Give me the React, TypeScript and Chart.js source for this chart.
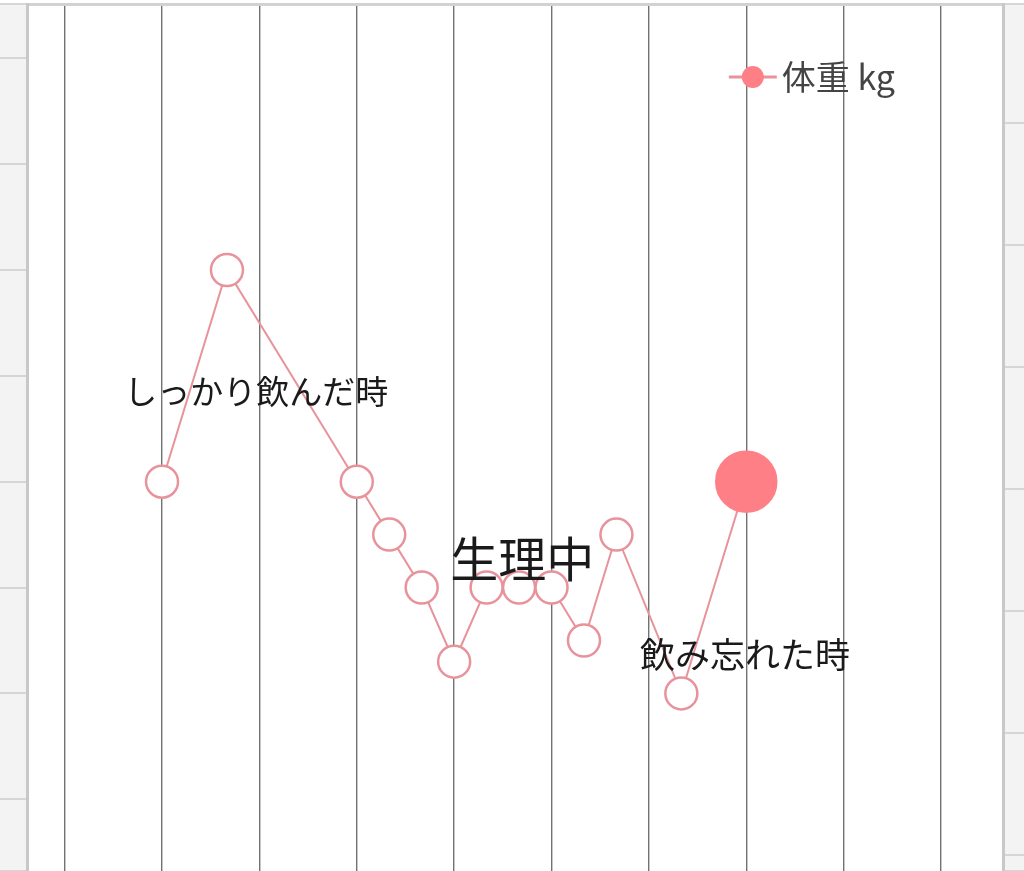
import React, { useEffect, useRef } from "react";
import { Chart, registerables } from "chart.js";

Chart.register(...registerables);

// weight log (days counted from the first entry)
const seriesLabel = "体重 kg";
const dayOffsets = [0, 2, 6, 7, 8, 9, 10, 11, 12, 13, 14, 16, 18];
const weights = [50.0, 50.4, 50.0, 49.9, 49.8, 49.66, 49.8, 49.8, 49.8, 49.7, 49.9, 49.6, 50.0];

// free text notes, anchored in data coordinates
const noteTexts = ["しっかり飲んだ時", "生理中", "飲み忘れた時"];
const noteDays = [2.9, 11.1, 17.96];
const noteWeights = [50.17, 49.855, 49.673];

// visible window of the scrolled chart
const dayMin = -4.16;
const dayMax = 25.91;
const dayStep = 3;
const weightMin = 49.2644;
const weightMax = 50.9026;
const weightStep = 0.2;
const rightMin = 19.869;
const rightMax = 26.975;
const rightStep = 1;

const FONT = '"Noto Sans CJK JP", "Noto Sans", sans-serif';
const PINK = "#e8939b";
const PINK_FILL = "#ff7f87";
const NOTE_FONT_SIZE = [33, 48, 35];

const framePlugin = {
  id: "frame",
  beforeDraw(chart: any) {
    const { ctx, chartArea: a, width, height } = chart;
    ctx.save();
    ctx.fillStyle = "#ffffff";
    ctx.fillRect(0, 0, width, height);
    ctx.fillStyle = "#f3f3f3";
    ctx.fillRect(0, a.top, a.left, height - a.top);
    ctx.fillRect(a.right, a.top, width - a.right, height - a.top);
    ctx.restore();
  },
  afterDatasetsDraw(chart: any) {
    const { ctx, chartArea: a } = chart;
    const xs = chart.scales.x;
    const ys = chart.scales.y;
    ctx.save();
    // notes
    ctx.fillStyle = "#1a1a1a";
    ctx.textAlign = "center";
    ctx.textBaseline = "middle";
    noteTexts.forEach((t, i) => {
      ctx.font = `${NOTE_FONT_SIZE[i]}px ${FONT}`;
      ctx.fillText(t, xs.getPixelForValue(noteDays[i]), ys.getPixelForValue(noteWeights[i]));
    });
    // legend (drawn over the plot area)
    ctx.font = `34px ${FONT}`;
    const label = chart.data.datasets[0].label;
    const tw = ctx.measureText(label).width;
    const textRight = a.right - 103;
    const textLeft = textRight - tw - 5;
    const cy = a.top + 73;
    ctx.fillStyle = "#444444";
    ctx.textAlign = "left";
    ctx.fillText(label, textLeft, cy);
    ctx.strokeStyle = PINK;
    ctx.lineWidth = 3;
    ctx.beginPath();
    ctx.moveTo(textLeft - 53, cy);
    ctx.lineTo(textLeft - 5, cy);
    ctx.stroke();
    ctx.fillStyle = PINK_FILL;
    ctx.beginPath();
    ctx.arc(textLeft - 29, cy, 11, 0, Math.PI * 2);
    ctx.fill();
    ctx.restore();
  },
};

const WeightChart: React.FC = () => {
  const chartRef = useRef<HTMLCanvasElement | null>(null);
  const chartInstance = useRef<Chart | null>(null);

  useEffect(() => {
    if (chartInstance.current) {
      chartInstance.current.destroy();
    }
    const last = weights.length - 1;
    const points = dayOffsets.map((d, i) => ({ x: d, y: weights[i] }));

    if (chartRef.current) {
      chartInstance.current = new Chart(chartRef.current, {
        type: "line",
        data: {
          datasets: [
            {
              label: seriesLabel,
              data: points,
              xAxisID: "x",
              yAxisID: "y",
              borderColor: PINK,
              borderWidth: 2,
              tension: 0,
              clip: false as any,
              pointRadius: (c: any) => (c.dataIndex === last ? 30 : 16),
              pointBorderWidth: 2.5,
              pointBackgroundColor: (c: any) => (c.dataIndex === last ? PINK_FILL : "#ffffff"),
              pointBorderColor: (c: any) => (c.dataIndex === last ? PINK_FILL : PINK),
            },
          ],
        },
        options: {
          animation: false,
          responsive: true,
          maintainAspectRatio: false,
          layout: { padding: 0, autoPadding: false },
          plugins: {
            legend: { display: false },
            tooltip: { enabled: false },
          },
          scales: {
            x: {
              type: "linear",
              position: "top",
              min: dayMin,
              max: dayMax,
              ticks: { display: false, stepSize: dayStep },
              grid: { color: "#727272", lineWidth: 1.4, drawTicks: false },
              border: { color: "#d2d2d2", width: 3 },
              afterBuildTicks: (s: any) => {
                // one grid line every 3 days, counted from day 0
                const ticks = [];
                for (let v = Math.ceil(s.min / dayStep) * dayStep; v < s.max; v += dayStep) {
                  ticks.push({ value: v });
                }
                s.ticks = ticks;
              },
              afterFit: (s: any) => {
                s.height = 4;
              },
            },
            y: {
              position: "left",
              min: weightMin,
              max: weightMax,
              ticks: { display: false, stepSize: weightStep },
              grid: { drawOnChartArea: false, color: "#d6d6d6", lineWidth: 2, tickLength: 27 },
              border: { color: "#c8c8c8", width: 3 },
              afterFit: (s: any) => {
                s.width = 27;
              },
            },
            y1: {
              position: "right",
              min: rightMin,
              max: rightMax,
              ticks: { display: false, stepSize: rightStep },
              grid: { drawOnChartArea: false, color: "#d6d6d6", lineWidth: 2, tickLength: 21 },
              border: { color: "#c8c8c8", width: 3 },
              afterFit: (s: any) => {
                s.width = 21;
              },
            },
          },
        },
        plugins: [framePlugin],
      } as any);
    }

    return () => {
      if (chartInstance.current) {
        chartInstance.current.destroy();
        chartInstance.current = null;
      }
    };
  }, []);

  return (
    <div style={{ position: "absolute", left: 0, top: 0, width: 1024, height: 871 }}>
      <canvas ref={chartRef}></canvas>
    </div>
  );
};

export default function App() {
  return <WeightChart />;
}
